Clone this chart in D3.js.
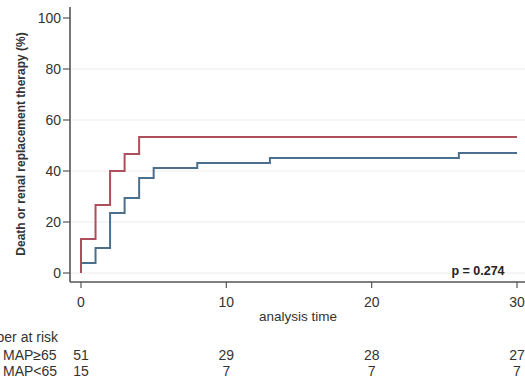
<!DOCTYPE html>
<html>
<head>
<meta charset="utf-8">
<script src="https://cdn.jsdelivr.net/npm/d3@7"></script>
<style>
  body { margin: 0; background: #fff; }
  svg { display: block; font-family: "Liberation Sans", Arial, sans-serif; }
</style>
</head>
<body>
<svg id="chart" width="525" height="380"></svg>
<script>
// Kaplan-Meier failure estimates (%), step times in days
const groups = ['MAP\u226565', 'MAP<65'];
const timesHigh = [0, 1, 2, 3, 4, 5, 8, 13, 26, 30];
const valuesHigh = [3.9, 9.8, 23.5, 29.4, 37.3, 41.2, 43.1, 45.1, 47.1, 47.1];
const timesLow = [0, 1, 2, 3, 4, 30];
const valuesLow = [13.3, 26.7, 40.0, 46.7, 53.3, 53.3];
const yTicks = [0, 20, 40, 60, 80, 100];
const xTicks = [0, 10, 20, 30];
const riskHigh = [51, 29, 28, 27];
const riskLow = [15, 7, 7, 7];

const width = 525, height = 380;
const svg = d3.select('#chart');

const x = d3.scaleLinear().domain([0, 30]).range([81, 517]);
const y = d3.scaleLinear().domain([0, 100]).range([273, 18]);

const axisLeftX = 70, axisBottomY = 282;

// gridlines
svg.append('g')
  .selectAll('line')
  .data(yTicks.filter(d => d < 100))
  .enter()
  .append('line')
  .attr('x1', axisLeftX + 1)
  .attr('x2', width)
  .attr('y1', d => y(d))
  .attr('y2', d => y(d))
  .attr('stroke', '#ececec')
  .attr('stroke-width', 1);

// curves (blue first so red sits on top at t = 0)
const step = d3.line()
  .x(d => x(d[0]))
  .y(d => y(d[1]))
  .curve(d3.curveStepAfter);

const series = [
  { color: '#4d6f8e', pts: [[0, 0]].concat(timesHigh.map((t, i) => [t, valuesHigh[i]])) },
  { color: '#ad4f5d', pts: [[0, 0]].concat(timesLow.map((t, i) => [t, valuesLow[i]])) }
];

svg.append('g')
  .selectAll('path')
  .data(series)
  .enter()
  .append('path')
  .attr('d', d => step(d.pts))
  .attr('fill', 'none')
  .attr('stroke', d => d.color)
  .attr('stroke-width', 2);

// y axis
const yAxis = svg.append('g').attr('transform', `translate(${axisLeftX},0)`);
yAxis.append('line')
  .attr('y1', 7).attr('y2', axisBottomY)
  .attr('stroke', '#555').attr('stroke-width', 1.6);
yAxis.selectAll('line.tick')
  .data(yTicks)
  .enter()
  .append('line')
  .attr('class', 'tick')
  .attr('x1', -7).attr('x2', 0)
  .attr('y1', d => y(d)).attr('y2', d => y(d))
  .attr('stroke', '#555').attr('stroke-width', 1.2);
yAxis.selectAll('text')
  .data(yTicks)
  .enter()
  .append('text')
  .attr('x', -9)
  .attr('y', d => y(d) + 5)
  .attr('text-anchor', 'end')
  .style('font-size', '14px')
  .style('fill', '#333')
  .text(d => d);

// x axis
const xAxis = svg.append('g').attr('transform', `translate(0,${axisBottomY})`);
xAxis.append('line')
  .attr('x1', axisLeftX).attr('x2', width)
  .attr('stroke', '#555').attr('stroke-width', 1.6);
xAxis.selectAll('line.tick')
  .data(xTicks)
  .enter()
  .append('line')
  .attr('class', 'tick')
  .attr('x1', d => x(d)).attr('x2', d => x(d))
  .attr('y1', 0).attr('y2', 6)
  .attr('stroke', '#555').attr('stroke-width', 1.2);
xAxis.selectAll('text')
  .data(xTicks)
  .enter()
  .append('text')
  .attr('x', d => x(d))
  .attr('y', 25)
  .attr('text-anchor', 'middle')
  .style('font-size', '14px')
  .style('fill', '#333')
  .text(d => d);

// axis titles
svg.append('text')
  .attr('transform', 'translate(25,144) rotate(-90)')
  .attr('text-anchor', 'middle')
  .style('font-size', '12px')
  .style('font-weight', 'bold')
  .style('fill', '#333')
  .text('Death or renal replacement therapy (%)');

svg.append('text')
  .attr('x', 298)
  .attr('y', 321)
  .attr('text-anchor', 'middle')
  .style('font-size', '13.5px')
  .style('fill', '#333')
  .text('analysis time');

svg.append('text')
  .attr('x', 478)
  .attr('y', 275)
  .attr('text-anchor', 'middle')
  .style('font-size', '12.5px')
  .style('font-weight', 'bold')
  .style('fill', '#222')
  .text('p = 0.274');

// number at risk table (label runs off the left edge as in the original)
svg.append('text')
  .attr('x', 58)
  .attr('y', 342)
  .attr('text-anchor', 'end')
  .style('font-size', '14px')
  .style('fill', '#333')
  .text('Number at risk');

const rows = [riskHigh, riskLow];
rows.forEach((row, r) => {
  const yy = 360 + r * 16;
  svg.append('text')
    .attr('x', 3)
    .attr('y', yy)
    .style('font-size', '14px')
    .style('fill', '#333')
    .text(groups[r]);
  svg.append('g')
    .selectAll('text')
    .data(row)
    .enter()
    .append('text')
    .attr('x', (d, i) => x(xTicks[i]))
    .attr('y', yy)
    .attr('text-anchor', 'middle')
    .style('font-size', '14px')
    .style('fill', '#333')
    .text(d => d);
});
</script>
</body>
</html>
